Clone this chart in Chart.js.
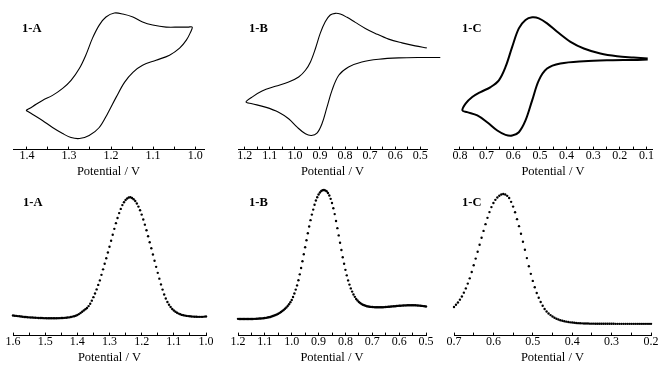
<!DOCTYPE html>
<html lang="en">
<head>
<meta charset="UTF-8">
<title>Cyclic and differential pulse voltammograms</title>
<script src="https://cdn.jsdelivr.net/npm/chart.js"></script>
<style>
    body { margin: 0; background: #fff; }
    #fig { position: relative; width: 666px; height: 368px; overflow: hidden; }
    #fig canvas { position: absolute; }
    .tag { position: absolute; font: bold 12.5px "Liberation Serif", serif; line-height: 12.5px; color: #000; }
</style>
</head>
<body>
<div id="fig">
    <canvas id="cvA" width="215" height="179" style="left:1px;top:0px"></canvas>
    <canvas id="cvB" width="221" height="179" style="left:226px;top:0px"></canvas>
    <canvas id="cvC" width="222" height="179" style="left:442px;top:0px"></canvas>
    <canvas id="dpvA" width="217" height="185" style="left:1px;top:180px"></canvas>
    <canvas id="dpvB" width="212" height="185" style="left:226px;top:180px"></canvas>
    <canvas id="dpvC" width="221" height="185" style="left:442px;top:180px"></canvas>
    <div class="tag" style="left:22px;top:22px">1-A</div>
    <div class="tag" style="left:249px;top:22px">1-B</div>
    <div class="tag" style="left:462px;top:22px">1-C</div>
    <div class="tag" style="left:23px;top:196px">1-A</div>
    <div class="tag" style="left:249px;top:196px">1-B</div>
    <div class="tag" style="left:462px;top:196px">1-C</div>
</div>

<script>
// cyclic voltammograms (potential V, current uA), traced along the loop
const cvA_E = [1.402,1.386,1.363,1.339,1.315,1.295,1.275,1.260,1.244,1.228,1.212,1.192,1.172,1.148,1.125,1.101,1.069,1.037,1.017,1.007,
               1.012,1.021,1.037,1.061,1.093,1.125,1.148,1.168,1.188,1.208,1.228,1.252,1.275,1.295,1.315,1.339,1.363,1.386,1.402];
const cvA_I = [-3.0,-2.6,-2.0,-1.5,-0.8,0,1.2,2.5,4.2,5.5,6.3,6.7,6.6,6.3,5.8,5.5,5.3,5.3,5.3,5.3,
               4.7,4.0,3.2,2.5,2.0,1.5,0.8,-0.2,-1.7,-3.3,-4.7,-5.5,-5.8,-5.7,-5.3,-4.7,-4.0,-3.4,-3.0];

const cvB_E = [0.474,0.520,0.573,0.626,0.679,0.719,0.759,0.792,0.819,0.839,0.859,0.879,0.899,0.918,0.938,0.958,0.985,1.025,1.078,1.131,
               1.171,1.195,1.171,1.118,1.065,1.025,0.991,0.958,0.934,0.912,0.892,0.872,0.852,0.825,0.786,0.733,0.666,0.586,0.493,0.420];
const cvB_I = [3.23,3.43,3.73,4.10,4.67,5.17,5.77,6.27,6.60,6.67,6.50,5.83,4.67,3.17,1.83,1.00,0.33,-0.17,-0.60,-1.07,
               -1.67,-2.17,-2.33,-2.67,-3.17,-3.83,-4.67,-5.33,-5.50,-5.27,-4.33,-2.67,-1.00,0.50,1.33,1.83,2.10,2.23,2.27,2.27];

const cvC_E = [0.095,0.148,0.210,0.273,0.335,0.385,0.435,0.473,0.504,0.529,0.554,0.579,0.604,0.629,0.654,0.685,0.723,0.754,0.779,0.791,
               0.773,0.735,0.698,0.660,0.629,0.604,0.579,0.554,0.529,0.504,0.473,0.423,0.335,0.235,0.148,0.095];
const cvC_I = [2.17,2.27,2.40,2.67,3.17,3.83,4.83,5.67,6.17,6.27,6.00,5.17,3.33,1.33,0,-0.67,-1.17,-1.67,-2.33,-3.00,
               -3.17,-3.50,-4.17,-5.00,-5.43,-5.50,-5.17,-4.00,-2.00,0,1.17,1.67,1.90,2.00,2.03,2.07];

// differential pulse voltammograms, one reading every 5 mV from the start potential downward
const dpvStep = 0.005;
const dpvA_start = 1.6;
const dpvA_I = [0.50,0.48,0.46,0.44,0.42,0.40,0.38,0.36,0.35,0.33,
                0.32,0.31,0.30,0.29,0.28,0.27,0.26,0.25,0.25,0.24,
                0.24,0.23,0.23,0.23,0.23,0.23,0.23,0.23,0.24,0.24,
                0.25,0.26,0.27,0.28,0.30,0.32,0.35,0.39,0.43,0.48,
                0.55,0.64,0.75,0.87,1.00,1.12,1.25,1.44,1.67,1.98,
                2.33,2.70,3.10,3.55,4.00,4.55,5.10,5.65,6.20,6.78,
                7.35,7.95,8.55,9.13,9.70,10.22,10.70,11.12,11.50,11.78,
                12.00,12.15,12.25,12.28,12.20,12.08,11.90,11.65,11.35,10.98,
                10.55,10.07,9.55,9.00,8.40,7.80,7.20,6.58,5.95,5.35,
                4.75,4.17,3.60,3.08,2.60,2.20,1.85,1.57,1.35,1.15,
                1.00,0.87,0.77,0.69,0.62,0.56,0.52,0.49,0.46,0.44,
                0.42,0.40,0.39,0.38,0.38,0.37,0.37,0.37,0.37,0.39,
                0.40];

const dpvB_start = 1.2;
const dpvB_I = [0.17,0.16,0.16,0.16,0.16,0.16,0.16,0.16,0.16,0.16,
                0.16,0.16,0.17,0.17,0.18,0.19,0.20,0.21,0.22,0.23,
                0.25,0.27,0.30,0.33,0.36,0.40,0.45,0.50,0.55,0.61,
                0.68,0.76,0.85,0.95,1.05,1.17,1.30,1.45,1.62,1.82,
                2.05,2.35,2.70,3.08,3.50,4.02,4.60,5.23,5.90,6.60,
                7.30,8.00,8.70,9.37,10.00,10.55,11.05,11.53,11.95,12.28,
                12.55,12.75,12.90,12.97,13.00,12.96,12.88,12.70,12.45,12.12,
                11.70,11.18,10.60,9.92,9.20,8.48,7.75,7.02,6.30,5.65,
                5.05,4.50,4.00,3.58,3.20,2.88,2.60,2.36,2.15,1.99,
                1.85,1.74,1.65,1.58,1.52,1.47,1.43,1.40,1.38,1.36,
                1.35,1.34,1.33,1.32,1.32,1.32,1.32,1.32,1.33,1.34,
                1.35,1.36,1.37,1.38,1.40,1.41,1.42,1.43,1.45,1.46,
                1.47,1.48,1.49,1.50,1.51,1.51,1.52,1.52,1.53,1.53,
                1.53,1.52,1.52,1.51,1.50,1.49,1.47,1.46,1.44,1.42,
                1.40];

const dpvC_start = 0.7;
const dpvC_I = [1.35,1.57,1.80,2.08,2.40,2.78,3.20,3.68,4.20,4.83,
                5.50,6.17,6.85,7.55,8.25,8.93,9.60,10.23,10.80,11.30,
                11.70,12.02,12.25,12.43,12.55,12.60,12.55,12.42,12.20,11.82,
                11.35,10.78,10.10,9.40,8.65,7.85,7.05,6.22,5.40,4.65,
                3.95,3.32,2.75,2.27,1.85,1.48,1.15,0.90,0.70,0.54,
                0.40,0.28,0.18,0.10,0.03,-0.02,-0.07,-0.11,-0.15,-0.18,
                -0.20,-0.22,-0.24,-0.26,-0.27,-0.28,-0.29,-0.30,-0.30,-0.31,
                -0.31,-0.31,-0.32,-0.32,-0.32,-0.32,-0.32,-0.32,-0.32,-0.32,
                -0.32,-0.32,-0.33,-0.33,-0.33,-0.33,-0.33,-0.33,-0.33,-0.33,
                -0.33,-0.33,-0.33,-0.33,-0.33,-0.33,-0.33,-0.33,-0.33,-0.33,
                -0.33];

// tick labels
const ticksCvA = [1.4, 1.3, 1.2, 1.1, 1.0];
const ticksCvB = [1.2, 1.1, 1.0, 0.9, 0.8, 0.7, 0.6, 0.5];
const ticksCvC = [0.8, 0.7, 0.6, 0.5, 0.4, 0.3, 0.2, 0.1];
const ticksDpvA = [1.6, 1.5, 1.4, 1.3, 1.2, 1.1, 1.0];
const ticksDpvB = [1.2, 1.1, 1.0, 0.9, 0.8, 0.7, 0.6, 0.5];
const ticksDpvC = [0.7, 0.6, 0.5, 0.4, 0.3, 0.2];

const serif = '"Liberation Serif", "Times New Roman", serif';

function loopPoints(E, I) {
    return E.map((e, i) => ({ x: e, y: I[i] }));
}

function scanPoints(start, I) {
    return I.map((v, i) => ({ x: +(start - i * dpvStep).toFixed(3), y: v }));
}

// major ticks plus a minor mark halfway between them
function buildTicks(major, lo, hi) {
    const half = Math.abs(major[0] - major[1]) / 2;
    const vals = [];
    major.forEach(v => { vals.push(v, v - half, v + half); });
    const uniq = [...new Set(vals.map(v => +v.toFixed(3)))].filter(v => v >= lo - 1e-6 && v <= hi + 1e-6);
    return uniq.sort((a, b) => a - b).map(v => ({ value: v }));
}

function panel(id, dataset, major, xmin, xmax, ymin, ymax, padR) {
    new Chart(document.getElementById(id), {
        type: 'line',
        data: { datasets: [dataset] },
        options: {
            responsive: false,
            animation: false,
            layout: { padding: { left: 12, right: padR, top: 5, bottom: 0 } },
            plugins: { legend: { display: false }, tooltip: { enabled: false } },
            scales: {
                x: {
                    type: 'linear',
                    reverse: true,
                    min: xmin,
                    max: xmax,
                    afterBuildTicks: s => { s.ticks = buildTicks(major, xmin, xmax); },
                    border: { display: true, color: '#000', width: 1 },
                    grid: { display: true, drawOnChartArea: false, drawTicks: true, tickLength: -3, color: '#000' },
                    ticks: {
                        color: '#000',
                        padding: 2.5,
                        autoSkip: false,
                        maxRotation: 0,
                        font: { family: serif, size: 12 },
                        callback: v => major.some(m => Math.abs(m - v) < 1e-6) ? v.toFixed(1) : ''
                    },
                    title: {
                        display: true,
                        text: 'Potential / V',
                        color: '#000',
                        font: { family: serif, size: 12.5 },
                        padding: { top: -2, bottom: 0 }
                    }
                },
                y: { display: false, min: ymin, max: ymax }
            }
        }
    });
}

function cvSet(E, I, w) {
    return {
        data: loopPoints(E, I),
        borderColor: '#000',
        borderWidth: w,
        pointRadius: 0,
        tension: 0.35,
        fill: false,
        clip: false
    };
}

function dpvSet(start, I) {
    return {
        data: scanPoints(start, I),
        showLine: false,
        pointRadius: 1.2,
        pointBorderWidth: 0,
        pointBackgroundColor: '#000',
        pointStyle: 'circle',
        clip: false
    };
}

panel('cvA', cvSet(cvA_E, cvA_I, 1.1), ticksCvA, 0.979, 1.433, -6.9, 7.5, 12);
panel('cvB', cvSet(cvB_E, cvB_I, 1.1), ticksCvB, 0.473, 1.227, -6.9, 7.5, 20);
panel('cvC', cvSet(cvC_E, cvC_I, 2), ticksCvC, 0.079, 0.8225, -6.9, 7.5, 12);
panel('dpvA', dpvSet(dpvA_start, dpvA_I), ticksDpvA, 1.0, 1.6, -1.5, 13.5, 12);
panel('dpvB', dpvSet(dpvB_start, dpvB_I), ticksDpvB, 0.5, 1.2, -1.5, 13.5, 12);
panel('dpvC', dpvSet(dpvC_start, dpvC_I), ticksDpvC, 0.2, 0.7, -1.5, 13.5, 12);
</script>
</body>
</html>
